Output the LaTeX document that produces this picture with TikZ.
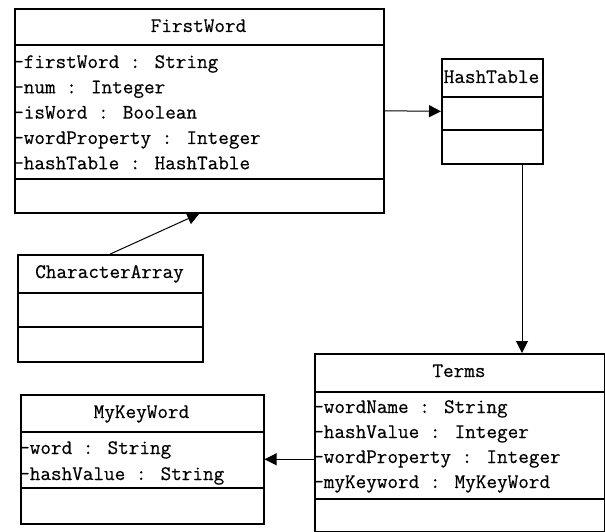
\documentclass[tikz,border=0pt]{standalone}
\usepackage{fontspec}
\usetikzlibrary{arrows.meta}
\newfontface\umlface{Latin Modern Mono}[RawFeature={embolden=0.45}]
\newcommand\umlfont{\fontsize{20.6}{25}\selectfont\umlface}
\tikzset{
  cls/.style={draw, line width=1.6pt, inner sep=0pt, anchor=north west},
  sepline/.style={line width=1.6pt},
  txt/.style={font=\umlfont, inner sep=0pt, anchor=base west},
  hdr/.style={font=\umlfont, inner sep=0pt, anchor=base},
  conn/.style={line width=1pt, -{Triangle[length=12pt,width=12pt]}}
}
\begin{document}
\begin{tikzpicture}[x=1pt,y=-1pt]
\useasboundingbox (0,0) rectangle (605,532);
% FirstWord
\node[cls, minimum width=369pt, minimum height=204pt] (fw) at (14,8) {};
\draw[sepline] (14,45) -- (383,45);
\draw[sepline] (14,179) -- (383,179);
\node[hdr] (fwh) at (198.5,32) {FirstWord};
\node[txt] (fw1) at (13,68) {-firstWord : String};
\node[txt] (fw2) at (13,93.3) {-num : Integer};
\node[txt] (fw3) at (13,118.6) {-isWord : Boolean};
\node[txt] (fw4) at (13,144) {-wordProperty : Integer};
\node[txt] (fw5) at (13,169.3) {-hashTable : HashTable};
% HashTable
\node[cls, minimum width=101pt, minimum height=105pt] (ht) at (441,58) {};
\draw[sepline] (441,97) -- (542,97);
\draw[sepline] (441,130) -- (542,130);
\node[hdr] (hth) at (491.5,83) {HashTable};
% CharacterArray
\node[cls, minimum width=185pt, minimum height=107pt] (ca) at (17,254) {};
\draw[sepline] (17,293) -- (202,293);
\draw[sepline] (17,327) -- (202,327);
\node[hdr] (cah) at (109.5,278) {CharacterArray};
% Terms
\node[cls, minimum width=290pt, minimum height=178pt] (tm) at (314,353) {};
\draw[sepline] (314,392) -- (604,392);
\draw[sepline] (314,499) -- (604,499);
\node[hdr] (tmh) at (459,377) {Terms};
\node[txt] (tm1) at (313,413) {-wordName : String};
\node[txt] (tm2) at (313,438) {-hashValue : Integer};
\node[txt] (tm3) at (313,463) {-wordProperty : Integer};
\node[txt] (tm4) at (313,488) {-myKeyword : MyKeyWord};
% MyKeyWord
\node[cls, minimum width=243pt, minimum height=129pt] (mk) at (20,394) {};
\draw[sepline] (20,432) -- (263,432);
\draw[sepline] (20,488) -- (263,488);
\node[hdr] (mkh) at (141.5,418) {MyKeyWord};
\node[txt] (mk1) at (19,454) {-word : String};
\node[txt] (mk2) at (19,480) {-hashValue : String};
% connectors
\coordinate (vx) at (522,0);
\draw[conn] (fw.east) -- (ht.west);
\draw[conn] (ht.south -| vx) -- (tm.north -| vx);
\draw[conn] (ca.north) -- (fw.south);
\draw[conn] (tm.west |- mk.east) -- (mk.east);
\end{tikzpicture}
\end{document}
